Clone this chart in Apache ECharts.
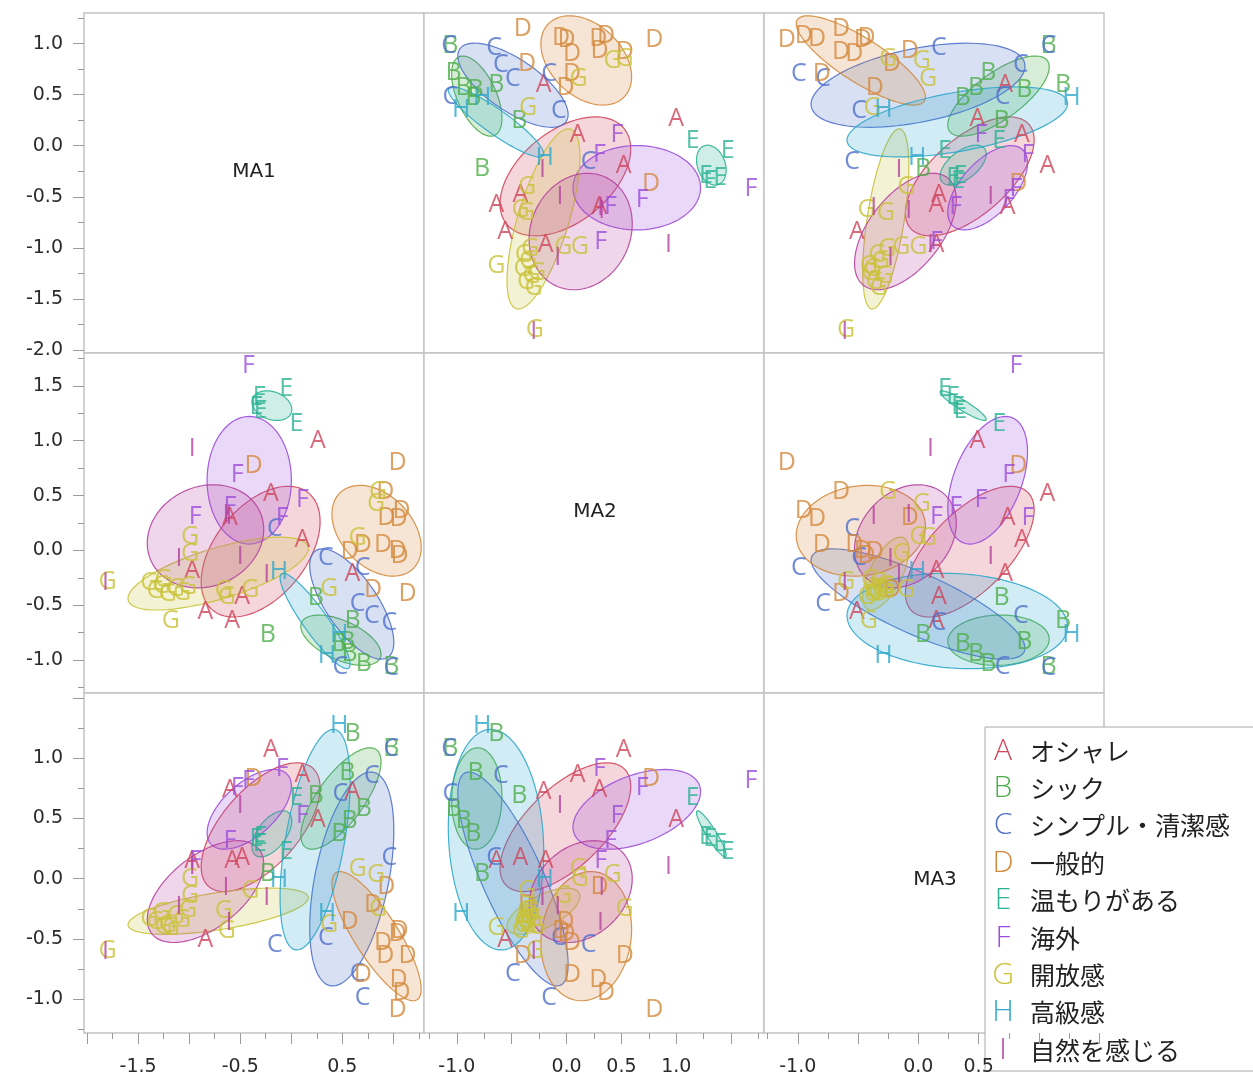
<!DOCTYPE html>
<html>
<head>
<meta charset="utf-8">
<script src="https://cdn.jsdelivr.net/npm/echarts@6/dist/echarts.min.js"></script>
<style>
  html, body { margin: 0; padding: 0; background: #ffffff; }
  #chart { width: 1253px; height: 1079px; }
</style>
</head>
<body>
<div id="chart"></div>
<script>
// Variables of the matrix and their axis ranges
const varNames = ['MA1', 'MA2', 'MA3'];
const axisRanges = [[-2.03, 1.30], [-1.30, 1.80], [-1.28, 1.54]];

// Tick marks and tick labels for each variable
const majorTicks = [
  [-2.0, -1.5, -1.0, -0.5, 0.0, 0.5, 1.0],
  [-1.0, -0.5, 0.0, 0.5, 1.0, 1.5],
  [-1.0, -0.5, 0.0, 0.5, 1.0, 1.5]
];
const minorTicks = [
  [-1.75, -1.25, -0.75, -0.25, 0.25, 0.75, 1.25],
  [-1.25, -0.75, -0.25, 0.25, 0.75, 1.25, 1.75],
  [-1.25, -0.75, -0.25, 0.25, 0.75, 1.25]
];
const leftLabels = [
  [1.0, 0.5, 0.0, -0.5, -1.0, -1.5, -2.0],
  [1.5, 1.0, 0.5, 0.0, -0.5, -1.0],
  [1.0, 0.5, 0.0, -0.5, -1.0]
];
const bottomLabels = [
  [-1.5, -0.5, 0.5],
  [-1.0, 0.0, 0.5, 1.0],
  [-1.0, 0.0, 0.5]
];

// Groups
const groupKeys = ['A', 'B', 'C', 'D', 'E', 'F', 'G', 'H', 'I'];
const groupNames = ['オシャレ', 'シック', 'シンプル・清潔感', '一般的', '温もりがある', '海外', '開放感', '高級感', '自然を感じる'];
const groupColors = ['#D0455A', '#4FAE4B', '#4F70CB', '#D4893C', '#2BB394', '#9B4DDB', '#C9C23A', '#2FA9CB', '#B5449E'];

// Scores per item: [MA1, MA2, MA3]
const ptsA = [[0.26, 1.00, 0.49], [-0.20, 0.52, 1.07], [-0.60, 0.30, 0.74], [0.11, 0.10, 0.86], [0.60, -0.21, 0.72],
              [-0.97, -0.19, 0.15], [-0.48, -0.42, 0.17], [-0.84, -0.56, -0.51], [-0.58, -0.64, 0.15]];
const ptsB = [[0.24, -0.43, 0.69], [-0.23, -0.77, 0.04], [0.60, -0.64, 1.20], [0.98, -1.06, 1.08],
              [0.55, -0.83, 0.88], [0.71, -1.03, 0.58], [0.57, -0.94, 0.48], [0.47, -0.85, 0.37]];
const ptsC = [[0.98, -1.07, 1.08], [0.79, -0.60, 0.85], [0.48, -1.06, 0.70], [0.96, -0.66, 0.17],
              [-0.16, 0.20, -0.55], [0.34, -0.07, -0.49], [0.70, -0.16, -0.99], [0.65, -0.49, -0.79]];
const ptsD = [[1.04, 0.80, -1.09], [1.14, -0.40, -0.64], [0.80, -0.36, -0.22], [0.92, 0.53, -0.64],
              [1.08, 0.36, -0.95], [1.05, 0.29, -0.84], [0.93, 0.30, -0.07], [0.90, 0.05, -0.53],
              [1.04, 0.00, -0.46], [0.70, 0.05, -0.80], [0.57, -0.01, -0.36], [-0.37, 0.77, 0.83], [1.06, -0.05, -0.43]];
const ptsE = [[0.05, 1.15, 0.67], [-0.05, 1.47, 0.22], [-0.31, 1.40, 0.29], [-0.34, 1.31, 0.33], [-0.30, 1.27, 0.35]];
const ptsF = [[-0.42, 1.68, 0.81], [-0.53, 0.69, 0.75], [0.11, 0.46, 0.52], [-0.60, 0.40, 0.31],
              [-0.94, 0.31, 0.15], [-0.09, 0.30, 0.91]];
const ptsG = [[-1.80, -0.29, -0.60], [0.85, 0.53, -0.25], [0.83, 0.42, 0.03], [0.65, 0.11, 0.08],
              [0.37, -0.35, -0.38], [-0.99, 0.12, 0.00], [-0.99, -0.03, -0.14], [-0.63, -0.42, -0.43],
              [-0.40, -0.36, -0.10], [-1.18, -0.64, -0.41], [-0.66, -0.37, -0.27],
              [-1.39, -0.30, -0.33], [-1.33, -0.37, -0.36], [-1.27, -0.32, -0.28], [-1.21, -0.40, -0.38],
              [-1.13, -0.35, -0.31], [-1.07, -0.39, -0.34], [-1.01, -0.33, -0.26], [-1.25, -0.27, -0.40]];
const ptsH = [[-0.12, -0.20, -0.01], [0.47, -0.77, 1.27], [0.35, -0.96, -0.29]];
const ptsI = [[-0.97, 0.93, 0.10], [-0.50, -0.06, 0.60], [-1.10, -0.08, -0.23], [-0.24, -0.22, -0.16],
              [-1.82, -0.30, -0.61], [-0.64, 0.32, -0.08], [-0.61, 0.31, -0.37]];

const groupPoints = [ptsA, ptsB, ptsC, ptsD, ptsE, ptsF, ptsG, ptsH, ptsI];

// Layout of the 3x3 matrix
const CELL = 340, LEFT = 84, TOP = 13;
const ELLIPSE_K = 1.1;   // radius of the density ellipse in standard deviations
const TICK_COLOR = '#9c9c9c';
const LABEL_FONT = 'DejaVu Sans';
const MARKER_FONT = '"Open Sans", "DejaVu Sans", sans-serif';

function hexToRgba(hex, a) {
  const n = parseInt(hex.slice(1), 16);
  return 'rgba(' + ((n >> 16) & 255) + ',' + ((n >> 8) & 255) + ',' + (n & 255) + ',' + a + ')';
}

// Mean and covariance of two columns of a group
function stats(pts, cx, cy) {
  const n = pts.length;
  let mx = 0, my = 0;
  pts.forEach(p => { mx += p[cx]; my += p[cy]; });
  mx /= n; my /= n;
  let sxx = 0, syy = 0, sxy = 0;
  pts.forEach(p => {
    const dx = p[cx] - mx, dy = p[cy] - my;
    sxx += dx * dx; syy += dy * dy; sxy += dx * dy;
  });
  return { mx, my, sxx: sxx / (n - 1), syy: syy / (n - 1), sxy: sxy / (n - 1) };
}

const grids = [], xAxes = [], yAxes = [], series = [];

function axisDef(dim, gridIndex, v, outer, minor) {
  const labels = dim === 'x' ? bottomLabels[v] : leftLabels[v];
  return {
    type: 'value',
    gridIndex: gridIndex,
    min: axisRanges[v][0],
    max: axisRanges[v][1],
    position: dim === 'x' ? 'bottom' : 'left',
    axisLine: { show: false, onZero: false },
    splitLine: { show: false },
    axisTick: {
      show: outer,
      inside: false,
      length: minor ? 6 : 11,
      lineStyle: { color: TICK_COLOR, width: 1 },
      customValues: minor ? minorTicks[v] : majorTicks[v]
    },
    axisLabel: {
      show: outer && !minor,
      customValues: labels,
      formatter: val => Number(val).toFixed(1),
      color: '#2b2b2b',
      fontSize: 19,
      fontFamily: LABEL_FONT,
      margin: dim === 'x' ? 25 : 21
    }
  };
}

for (let r = 0; r < 3; r++) {
  for (let c = 0; c < 3; c++) {
    const gi = grids.length;
    grids.push({
      left: LEFT + c * CELL, top: TOP + r * CELL, width: CELL, height: CELL,
      show: true, borderColor: '#c4c4c4', borderWidth: 1.5, backgroundColor: '#ffffff',
      containLabel: false
    });
    const outerX = r === 2, outerY = c === 0;
    const xi = xAxes.length;
    xAxes.push(axisDef('x', gi, c, outerX, false));
    xAxes.push(axisDef('x', gi, c, outerX, true));
    const yi = yAxes.length;
    yAxes.push(axisDef('y', gi, r, outerY, false));
    yAxes.push(axisDef('y', gi, r, outerY, true));
    if (r === c) continue;

    groupKeys.forEach((key, g) => {
      const pts = groupPoints[g];
      const color = groupColors[g];
      const s = stats(pts, c, r);
      // density ellipse of the group
      series.push({
        type: 'custom',
        xAxisIndex: xi, yAxisIndex: yi,
        silent: true,
        clip: true,
        z: 2,
        data: [[s.mx, s.my]],
        renderItem: function (params, api) {
          const a = Math.sqrt(s.sxx);
          const b = s.sxy / a;
          const d = Math.sqrt(Math.max(s.syy - b * b, 0));
          const poly = [];
          for (let i = 0; i < 96; i++) {
            const t = (i / 96) * Math.PI * 2;
            const u = Math.cos(t) * ELLIPSE_K, w = Math.sin(t) * ELLIPSE_K;
            poly.push(api.coord([s.mx + a * u, s.my + b * u + d * w]));
          }
          return {
            type: 'polygon',
            shape: { points: poly },
            style: { fill: hexToRgba(color, 0.22), stroke: hexToRgba(color, 0.9), lineWidth: 1.2 }
          };
        }
      });
      // letter markers
      series.push({
        type: 'scatter',
        xAxisIndex: xi, yAxisIndex: yi,
        silent: true,
        z: 4,
        symbol: 'circle',
        symbolSize: 1,
        itemStyle: { color: 'rgba(0,0,0,0)' },
        data: pts.map(p => [p[c], p[r]]),
        label: {
          show: true,
          position: 'inside',
          formatter: key,
          color: color,
          fontSize: 25,
          fontWeight: 400,
          fontFamily: MARKER_FONT
        }
      });
    });
  }
}

// Variable names on the diagonal and the group legend
const graphics = [];
const diagPos = [[254, 172], [595, 512], [935, 880]];
varNames.forEach((nm, i) => {
  graphics.push({
    type: 'text', x: diagPos[i][0], y: diagPos[i][1], z: 50,
    style: { text: nm, fill: '#222', font: '20px "DejaVu Sans"', align: 'center', verticalAlign: 'middle' }
  });
});
const legendChildren = [{
  type: 'rect', shape: { x: 0, y: 0, width: 280, height: 344 },
  style: { fill: '#ffffff', stroke: '#a8a8a8', lineWidth: 1 }
}];
groupKeys.forEach((key, g) => {
  const y = 24 + g * 37.4;
  legendChildren.push({
    type: 'text', x: 18, y: y,
    style: { text: key, fill: groupColors[g], font: '300 30px "Open Sans", "DejaVu Sans", sans-serif', align: 'center', verticalAlign: 'middle' }
  });
  legendChildren.push({
    type: 'text', x: 45, y: y,
    style: { text: groupNames[g], fill: '#222', font: '25px "Noto Sans CJK JP"', align: 'left', verticalAlign: 'middle' }
  });
});
graphics.push({ type: 'group', x: 985, y: 727, z: 100, children: legendChildren });

const chart = echarts.init(document.getElementById('chart'), null, { renderer: 'canvas' });
chart.setOption({
  animation: false,
  backgroundColor: '#ffffff',
  grid: grids,
  xAxis: xAxes,
  yAxis: yAxes,
  series: series,
  graphic: graphics
});
</script>
</body>
</html>
